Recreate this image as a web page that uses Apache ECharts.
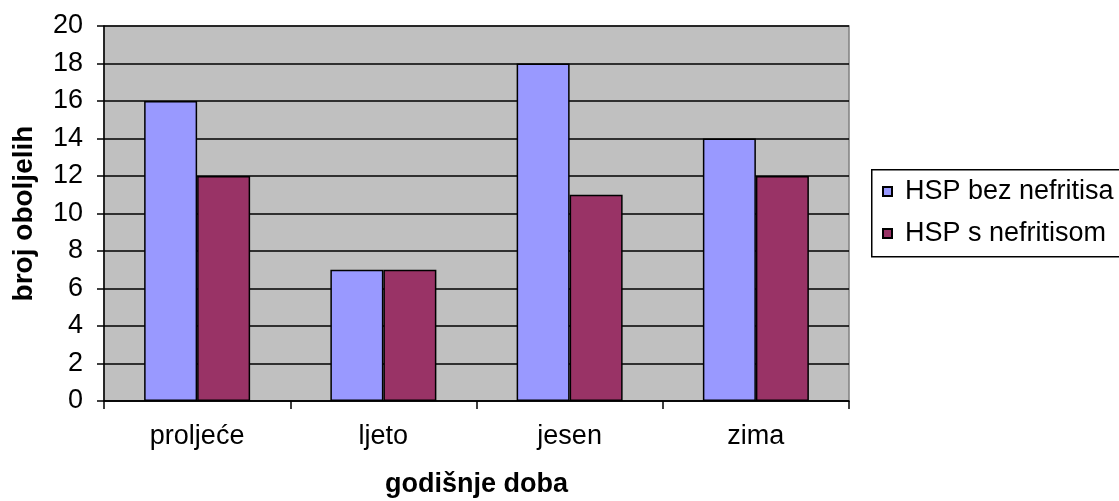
<!DOCTYPE html>
<html>
<head>
<meta charset="utf-8">
<script src="https://cdn.jsdelivr.net/npm/echarts@6/dist/echarts.min.js"></script>
<style>
html,body{margin:0;padding:0;background:#fff;}
#c{width:1119px;height:501px;}
</style>
</head>
<body>
<div id="c"></div>
<script>
const categories = ['proljeće', 'ljeto', 'jesen', 'zima'];
const seriesNames = ['HSP bez nefritisa', 'HSP s nefritisom'];
const bezNefritisa = [16, 7, 18, 14];
const sNefritisom = [12, 7, 11, 12];
const yTicks = { min: 0, max: 20, interval: 2 };

const font = '"Liberation Sans", Arial, sans-serif';
const chart = echarts.init(document.getElementById('c'));
chart.setOption({
  animation: false,
  backgroundColor: '#ffffff',
  textStyle: { fontFamily: font, color: '#000' },
  grid: {
    left: 104, right: 270, top: 26, bottom: 100,
    outerBoundsMode: 'none', containLabel: false,
    show: true, backgroundColor: '#C0C0C0', borderColor: '#808080', borderWidth: 1.5
  },
  graphic: [{
    type: 'rect', left: 871, top: 169,
    shape: { width: 260, height: 87 },
    style: { fill: '#fff', stroke: '#000', lineWidth: 1.5 }, z: 0
  }],
  legend: {
    orient: 'vertical', left: 882, top: 178, z: 10, padding: 0,
    itemWidth: 9, itemHeight: 9, itemGap: 15,
    icon: 'rect',
    textStyle: { fontSize: 27, color: '#000', fontFamily: font, padding: [0, 0, 0, 8] },
    data: seriesNames
  },
  xAxis: {
    type: 'category', data: categories,
    axisLine: { lineStyle: { color: '#000', width: 1.5 } },
    axisTick: { show: true, length: 8, alignWithLabel: false, lineStyle: { color: '#000', width: 1.5 } },
    axisLabel: { fontSize: 27, color: '#000', margin: 22, fontFamily: font },
    name: 'godišnje doba', nameLocation: 'middle', nameGap: 70,
    nameTextStyle: { fontSize: 27, fontWeight: 'bold', color: '#000', fontFamily: font }
  },
  yAxis: {
    type: 'value', min: yTicks.min, max: yTicks.max, interval: yTicks.interval,
    axisLine: { show: true, lineStyle: { color: '#000', width: 1.5 } },
    axisTick: { show: true, length: 7, lineStyle: { color: '#000', width: 1.5 } },
    axisLabel: { fontSize: 27, color: '#000', margin: 21, fontFamily: font },
    splitLine: { show: true, lineStyle: { color: '#000', width: 1.5 } },
    name: 'broj oboljelih', nameLocation: 'middle', nameGap: 66, nameRotate: 90,
    nameTextStyle: { fontSize: 28, fontWeight: 'bold', color: '#000', fontFamily: font }
  },
  series: [
    {
      name: seriesNames[0], type: 'bar', data: bezNefritisa, barWidth: 53, barGap: '0%',
      itemStyle: { color: '#9999FF', borderColor: '#000', borderWidth: 1.5 }
    },
    {
      name: seriesNames[1], type: 'bar', data: sNefritisom, barWidth: 53,
      itemStyle: { color: '#993366', borderColor: '#000', borderWidth: 1.5 }
    }
  ]
});
</script>
</body>
</html>
